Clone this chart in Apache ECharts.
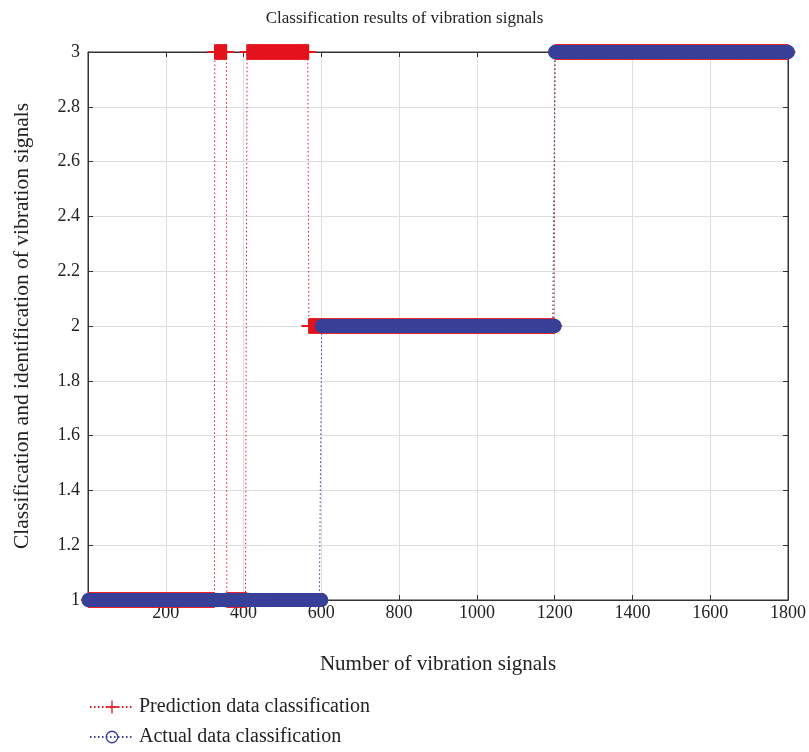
<!DOCTYPE html>
<html>
<head>
<meta charset="utf-8">
<script src="https://cdn.jsdelivr.net/npm/echarts@6/dist/echarts.min.js"></script>
<style>
html, body { margin: 0; padding: 0; background: #fff; }
#chartmain { width: 809px; height: 752px; }
</style>
</head>
<body>
<div id="chartmain"></div>
<script>
// runs of the predicted class (sample index from .. to, class)
var predRunStart = [1, 326, 357, 409, 568, 1201];
var predRunEnd = [325, 356, 408, 567, 1200, 1800];
var predRunClass = [1, 3, 1, 3, 2, 3];

// runs of the actual class
var actualRunStart = [1, 601, 1201];
var actualRunEnd = [600, 1200, 1800];
var actualRunClass = [1, 2, 3];

var xTicks = [0, 200, 400, 600, 800, 1000, 1200, 1400, 1600, 1800];
var yTicks = [1, 1.2, 1.4, 1.6, 1.8, 2, 2.2, 2.4, 2.6, 2.8, 3];

function expandRuns(starts, ends, cls) {
	var out = [];
	for (var r = 0; r < starts.length; r++) {
		for (var i = starts[r]; i <= ends[r]; i++) {
			out.push([i, cls[r]]);
		}
	}
	return out;
}

var predData = expandRuns(predRunStart, predRunEnd, predRunClass);
var actualData = expandRuns(actualRunStart, actualRunEnd, actualRunClass);

var serif = '"Liberation Serif", "DejaVu Serif", serif';
var red = '#e3141d';
var blue = '#3a4199';
var plusPath = 'path://M6.3,0h1.4v6.3h6.3v1.4h-6.3v6.3h-1.4v-6.3h-6.3v-1.4h6.3z';
var ringPath = 'path://M7,0A7,7 0 1,1 7,14A7,7 0 1,1 7,0ZM7,1.4A5.6,5.6 0 1,0 7,12.6A5.6,5.6 0 1,0 7,1.4Z';

var option = {
	animation : false,
	backgroundColor : '#fff',
	title : {
		text : 'Classification results of vibration signals',
		left : 'center',
		top : 5,
		textStyle : {
			fontFamily : serif,
			fontWeight : 'normal',
			fontSize : 17,
			color : '#222'
		}
	},
	legend : {
		orient : 'vertical',
		left : 89,
		top : 697,
		padding : 0,
		itemGap : 10,
		itemWidth : 44,
		itemHeight : 16,
		textStyle : {
			fontFamily : serif,
			fontSize : 20,
			color : '#222'
		},
		data : [ 'Prediction data classification', 'Actual data classification' ]
	},
	grid : {
		left : 88,
		right : 17,
		top : 52,
		bottom : 152,
		show : true,
		borderColor : '#333',
		borderWidth : 1
	},
	xAxis : [ {
		type : 'value',
		min : xTicks[0],
		max : xTicks[xTicks.length - 1],
		interval : 200,
		name : 'Number of vibration signals',
		nameLocation : 'middle',
		nameGap : 54,
		nameTextStyle : {
			fontFamily : serif,
			fontSize : 21,
			color : '#222'
		},
		axisLine : { show : true, onZero : false, lineStyle : { color : '#333' } },
		axisTick : { show : true, inside : true, length : 5, lineStyle : { color : '#333' } },
		axisLabel : {
			margin : 4,
			fontFamily : serif,
			fontSize : 18,
			color : '#222',
			formatter : function(v) { return v === 0 ? '' : v; }
		},
		splitLine : { show : true, lineStyle : { color : '#dedede' } }
	}, {
		type : 'value',
		position : 'top',
		min : xTicks[0],
		max : xTicks[xTicks.length - 1],
		interval : 200,
		axisLine : { show : true, onZero : false, lineStyle : { color : '#333' } },
		axisTick : { show : true, inside : true, length : 5, lineStyle : { color : '#333' } },
		axisLabel : { show : false },
		splitLine : { show : false }
	} ],
	yAxis : [ {
		type : 'value',
		min : yTicks[0],
		max : yTicks[yTicks.length - 1],
		interval : 0.2,
		name : 'Classification and identification of vibration signals',
		nameLocation : 'middle',
		nameGap : 55,
		nameTextStyle : {
			fontFamily : serif,
			fontSize : 21.5,
			color : '#222'
		},
		axisLine : { show : true, onZero : false, lineStyle : { color : '#333' } },
		axisTick : { show : true, inside : true, length : 5, lineStyle : { color : '#333' } },
		axisLabel : {
			margin : 8,
			fontFamily : serif,
			fontSize : 18,
			color : '#222'
		},
		splitLine : { show : true, lineStyle : { color : '#dedede' } }
	}, {
		type : 'value',
		position : 'right',
		min : yTicks[0],
		max : yTicks[yTicks.length - 1],
		interval : 0.2,
		axisLine : { show : true, onZero : false, lineStyle : { color : '#333' } },
		axisTick : { show : true, inside : true, length : 5, lineStyle : { color : '#333' } },
		axisLabel : { show : false },
		splitLine : { show : false }
	} ],
	series : [ {
		name : 'Prediction data classification',
		type : 'line',
		data : predData,
		symbol : plusPath,
		symbolSize : 15,
		showAllSymbol : true,
		clip : false,
		itemStyle : { color : red },
		lineStyle : { color : red, width : 1, type : [ 1.5, 2.5 ] },
		z : 3
	}, {
		name : 'Actual data classification',
		type : 'line',
		data : actualData,
		symbol : ringPath,
		symbolSize : 14,
		showAllSymbol : true,
		clip : false,
		itemStyle : { color : blue },
		lineStyle : { color : blue, width : 1, type : [ 1.5, 2.5 ] },
		z : 4
	} ]
};

var myChart = echarts.init(document.getElementById('chartmain'));
myChart.setOption(option);
</script>
</body>
</html>
